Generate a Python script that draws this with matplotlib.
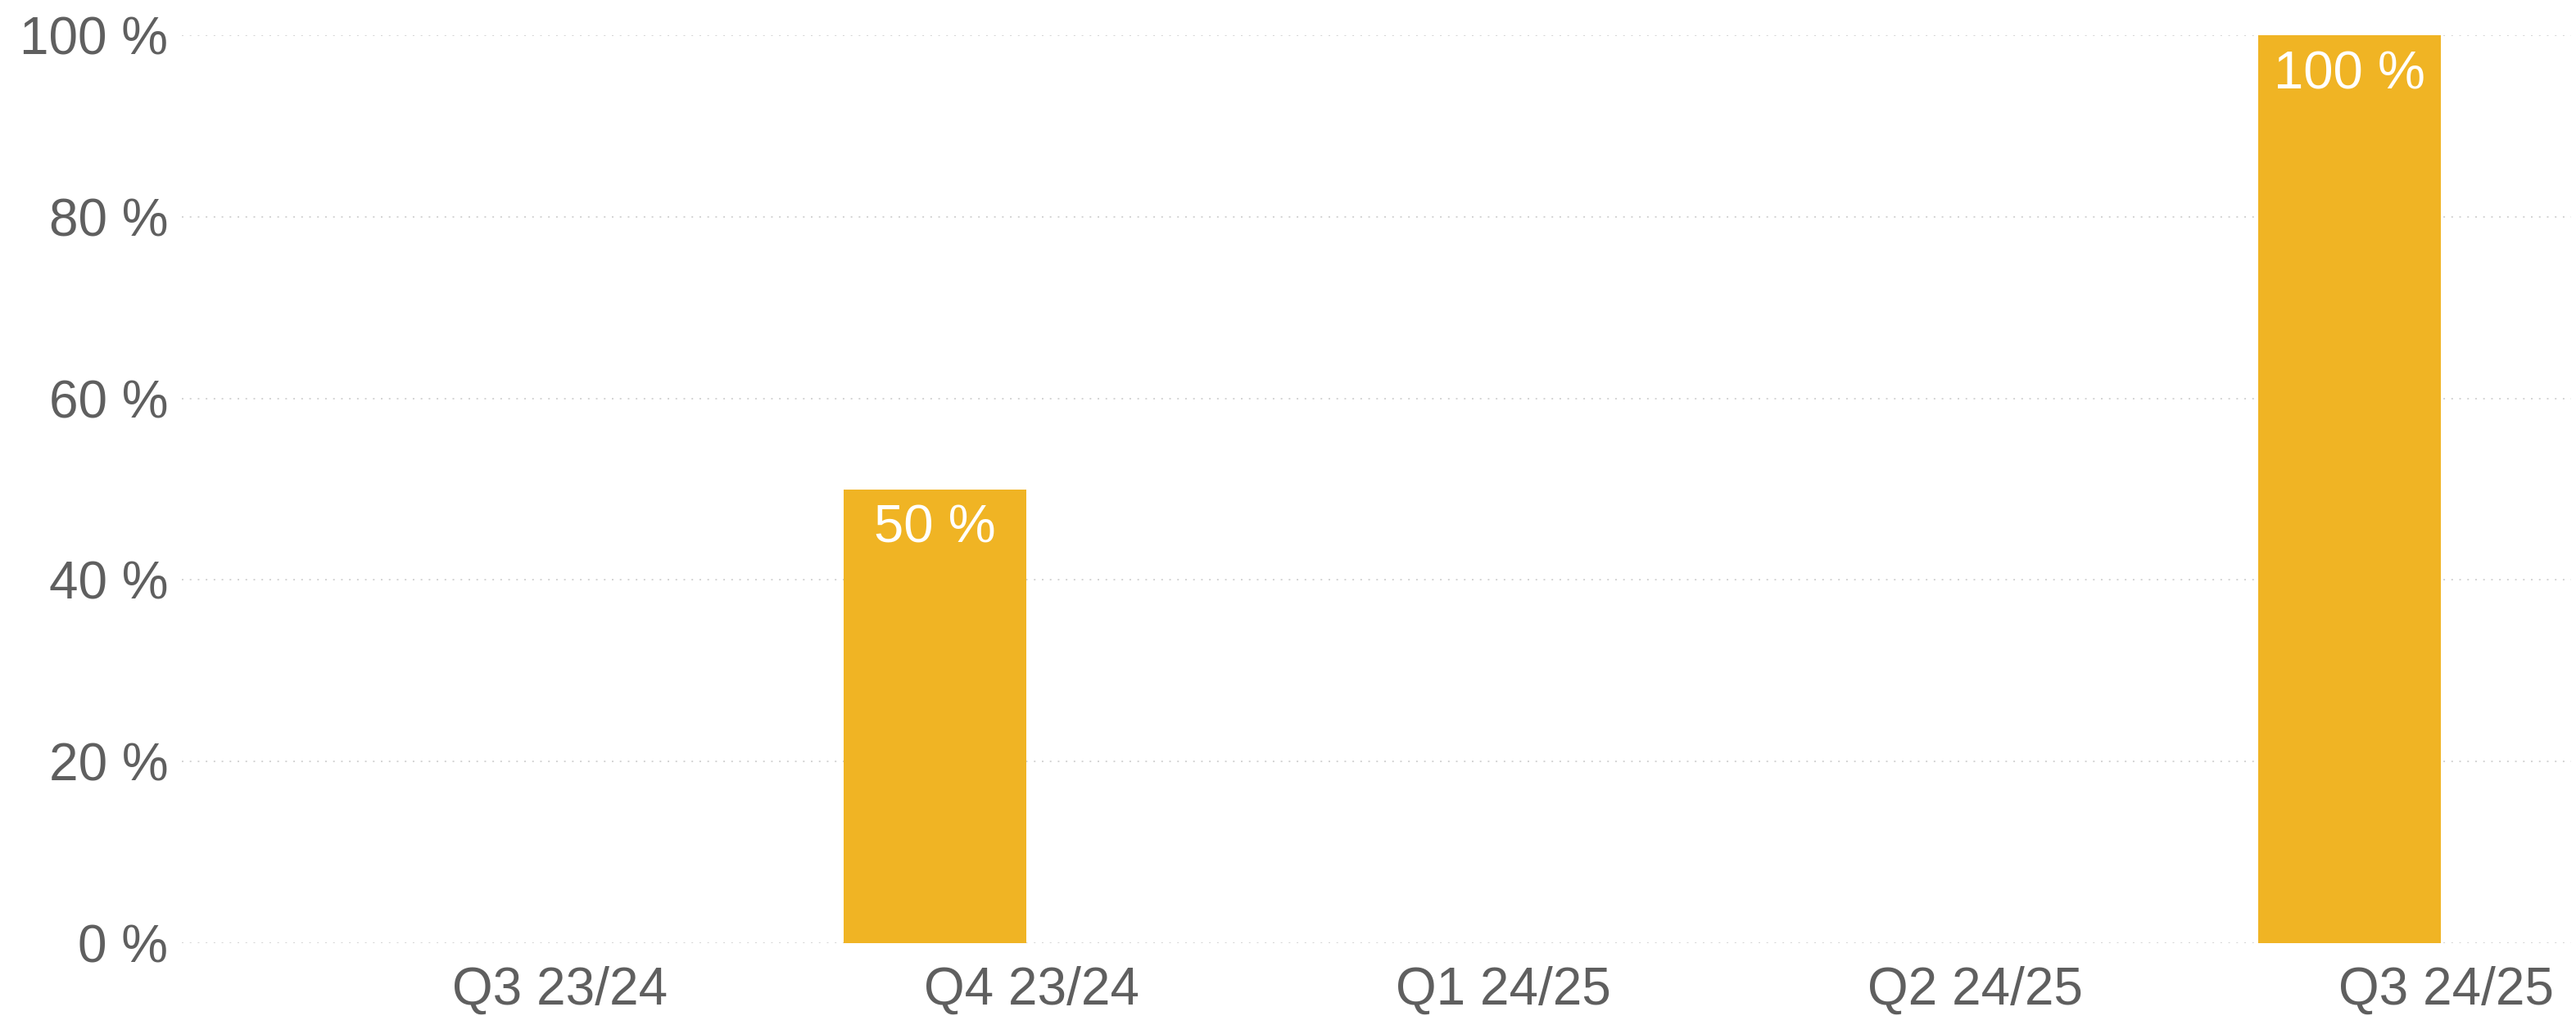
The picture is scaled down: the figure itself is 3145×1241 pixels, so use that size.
import numpy as np
import matplotlib
matplotlib.use("Agg")
import matplotlib.pyplot as plt

# chart data
quarters = ["Q3 23/24", "Q4 23/24", "Q1 24/25", "Q2 24/25", "Q3 24/25"]
share = [np.nan, 50, np.nan, np.nan, 100]
y_ticks = [0, 20, 40, 60, 80, 100]

bar_color = "#F0B424"
text_color = "#5F5F5F"
grid_color = "#D3D3D3"

plt.rcParams["font.family"] = ["Liberation Sans", "DejaVu Sans"]

fig = plt.figure(figsize=(31.45, 12.41), dpi=100)
ax = fig.add_axes([0.0706, 0.0717, 0.9274, 0.8936])

x = np.arange(len(quarters))
ax.bar(x, share, width=0.387, color=bar_color, zorder=3)

for xi, v in zip(x, share):
    if np.isnan(v):
        continue
    ax.annotate(f"{v:.0f} %", xy=(xi, v), xytext=(0, -13), textcoords="offset points",
                ha="center", va="top", color="white", fontsize=47, zorder=4)

ax.set_xlim(-0.597, 4.469)
ax.set_ylim(0, 100)
ax.set_yticks(y_ticks)
ax.set_yticklabels([f"{t} %" for t in y_ticks])
# category labels sit a bit right of the bars, as in the source chart
ax.set_xticks(x + 0.205)
ax.set_xticklabels(quarters)

ax.tick_params(axis="both", length=0, labelsize=46, colors=text_color)
ax.tick_params(axis="x", pad=20)
ax.tick_params(axis="y", pad=12)
for s in ax.spines.values():
    s.set_visible(False)
ax.yaxis.grid(True, color=grid_color, linestyle=(0, (1, 4)), linewidth=1.4, zorder=0)
ax.set_axisbelow(True)

fig.savefig("out.png", dpi=100, facecolor="white")
